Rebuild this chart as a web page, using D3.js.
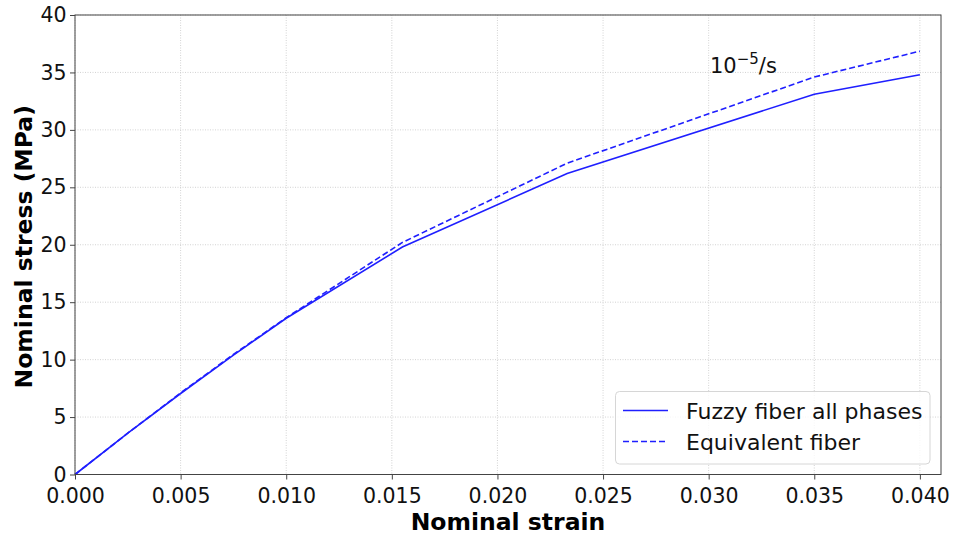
<!DOCTYPE html>
<html><head><meta charset="utf-8">
<script src="https://cdn.jsdelivr.net/npm/d3@7"></script>
<style>body{margin:0;background:#fff;} text{font-family:"DejaVu Sans",sans-serif;}</style>
</head><body>
<svg id="chart" width="954" height="538"></svg>
<script>
const strainFuzzy = [0, 0.0025, 0.005, 0.0075, 0.010, 0.0155, 0.0233, 0.035, 0.040];
const stressFuzzy = [0, 3.6, 7.05, 10.4, 13.6, 19.8, 26.2, 33.1, 34.8];
const strainEquiv = [0, 0.0025, 0.005, 0.0075, 0.010, 0.0155, 0.0233, 0.035, 0.040];
const stressEquiv = [0, 3.6, 7.1, 10.45, 13.65, 20.2, 27.1, 34.6, 36.85];
const xTicks = [0, 0.005, 0.010, 0.015, 0.020, 0.025, 0.030, 0.035, 0.040];
const yTicks = [0, 5, 10, 15, 20, 25, 30, 35, 40];
const seriesNames = ["Fuzzy fiber all phases", "Equivalent fiber"];

const svg = d3.select("#chart");
const L = 75, R = 941, T = 15, B = 474.5;
const x = d3.scaleLinear().domain([0, 0.041]).range([L, R]);
const y = d3.scaleLinear().domain([0, 40]).range([B, T]);
const col = "#1f1fff";

// grid
const g = svg.append("g");
g.selectAll(".gx").data(xTicks).enter().append("line")
  .attr("x1", d => x(d)).attr("x2", d => x(d)).attr("y1", T).attr("y2", B)
  .attr("stroke", "#c8c8c8").attr("stroke-width", 0.8).attr("stroke-dasharray", "1,1.5");
g.selectAll(".gy").data(yTicks).enter().append("line")
  .attr("x1", L).attr("x2", R).attr("y1", d => y(d)).attr("y2", d => y(d))
  .attr("stroke", "#c8c8c8").attr("stroke-width", 0.8).attr("stroke-dasharray", "1,1.5");

// lines
const mk = (xs, ys) => xs.map((v, i) => [v, ys[i]]);
const line = d3.line().x(d => x(d[0])).y(d => y(d[1]));
svg.append("path").datum(mk(strainFuzzy, stressFuzzy)).attr("d", line)
  .attr("fill", "none").attr("stroke", col).attr("stroke-width", 1.6);
svg.append("path").datum(mk(strainEquiv, stressEquiv)).attr("d", line)
  .attr("fill", "none").attr("stroke", col).attr("stroke-width", 1.6).attr("stroke-dasharray", "6,3");

// axes
const xAxis = d3.axisBottom(x).tickValues(xTicks).tickFormat(d3.format(".3f")).tickSize(5).tickPadding(8.5);
const yAxis = d3.axisLeft(y).tickValues(yTicks).tickFormat(d3.format("d")).tickSize(5).tickPadding(3.5);
const ax = svg.append("g").attr("transform", `translate(0,${B})`).call(xAxis);
const ay = svg.append("g").attr("transform", `translate(${L},0)`).call(yAxis);
[ax, ay].forEach(a => {
  a.select(".domain").remove();
  a.selectAll("line").attr("stroke", "#444").attr("stroke-width", 1);
  a.selectAll("text").attr("font-size", 20.5).attr("fill", "#111").style("font-family", "DejaVu Sans");
});
svg.append("rect").attr("x", L).attr("y", T).attr("width", R - L).attr("height", B - T)
  .attr("fill", "none").attr("stroke", "#444").attr("stroke-width", 1);

// axis labels
svg.append("text").attr("x", 508).attr("y", 530).attr("text-anchor", "middle")
  .attr("font-size", 23.5).attr("font-weight", "bold").text("Nominal strain");
svg.append("text").attr("transform", `translate(32,${(T + B) / 2 + 2}) rotate(-90)`).attr("text-anchor", "middle")
  .attr("font-size", 23.5).attr("font-weight", "bold").text("Nominal stress (MPa)");

// annotation
const ann = svg.append("text").attr("x", 710).attr("y", 72.5).attr("font-size", 21).attr("fill", "#111");
ann.append("tspan").text("10");
ann.append("tspan").attr("dy", -9).attr("font-size", 15).text("\u22125");
ann.append("tspan").attr("dy", 9).text("/s");

// legend
const lg = svg.append("g");
lg.append("rect").attr("x", 615.5).attr("y", 391.5).attr("width", 314.5).attr("height", 72.5).attr("rx", 4)
  .attr("fill", "#fff").attr("fill-opacity", 0.8).attr("stroke", "#d6d6d6").attr("stroke-width", 1);
seriesNames.forEach((n, i) => {
  const yy = 410.5 + i * 31;
  lg.append("line").attr("x1", 623).attr("x2", 668).attr("y1", yy).attr("y2", yy)
    .attr("stroke", col).attr("stroke-width", 1.6).attr("stroke-dasharray", i === 1 ? "6,3" : null);
  lg.append("text").attr("x", 686).attr("y", yy + 8).attr("font-size", 22).attr("fill", "#111").text(n);
});
</script>
</body></html>
